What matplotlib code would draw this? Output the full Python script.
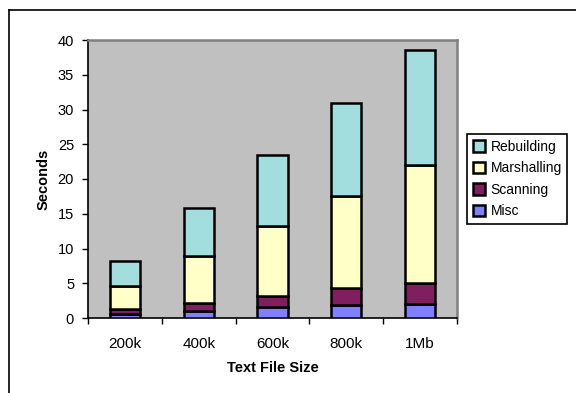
import matplotlib
matplotlib.use("Agg")
import matplotlib.pyplot as plt
from matplotlib.lines import Line2D
import numpy as np

plt.rcParams['font.family'] = ['Liberation Sans', 'DejaVu Sans']

sizes = ["200k", "400k", "600k", "800k", "1Mb"]
misc = [0.55, 1.05, 1.55, 1.85, 2.0]
scanning = [0.7, 1.15, 1.6, 2.4, 3.0]
marshalling = [3.35, 6.7, 10.05, 13.35, 17.0]
rebuilding = [3.65, 6.9, 10.25, 13.4, 16.5]

series = [
    ("Misc", misc, "#8080FF"),
    ("Scanning", scanning, "#801F60"),
    ("Marshalling", marshalling, "#FFFFC8"),
    ("Rebuilding", rebuilding, "#A3DEDF"),
]

fig = plt.figure(figsize=(5.76, 3.93), dpi=100)
fig.patch.set_facecolor("white")

# outer frame lines (top and left)
fig.add_artist(Line2D([9 / 576, 9 / 576], [0, 1 - 9.5 / 393],
                      transform=fig.transFigure, color="black", lw=1.2))
fig.add_artist(Line2D([9 / 576, 1], [1 - 9.5 / 393, 1 - 9.5 / 393],
                      transform=fig.transFigure, color="black", lw=1.2))

ax = fig.add_axes([88 / 576, 1 - 318 / 393, (457 - 88) / 576, (318 - 40) / 393])
ax.set_facecolor("#C0C0C0")

x = np.arange(len(sizes))
bottom = np.zeros(len(sizes))
handles = []
for name, vals, color in series:
    vals = np.array(vals)
    b = ax.bar(x, vals, width=0.41, bottom=bottom, color=color,
               edgecolor="black", linewidth=1.8, label=name, zorder=3)
    handles.append(b)
    bottom += vals

ax.set_xlim(-0.5, len(sizes) - 0.5)
ax.set_ylim(0, 40)
ax.set_yticks(np.arange(0, 41, 5))
ax.set_yticklabels([str(v) for v in range(0, 41, 5)], fontsize=10.5)

# category separators as ticks, labels at centers
ax.set_xticks(np.arange(-0.5, len(sizes), 1.0))
ax.set_xticklabels([])
ax.set_xticks(x, minor=True)
ax.set_xticklabels(sizes, minor=True, fontsize=11)
ax.tick_params(axis="x", which="major", direction="out", length=4, width=1, color="black")
ax.tick_params(axis="x", which="minor", length=0, pad=14)
ax.tick_params(axis="y", direction="out", length=4, width=1, pad=6)

for s in ["left", "bottom"]:
    ax.spines[s].set_color("black")
    ax.spines[s].set_linewidth(1.2)
for s in ["top", "right"]:
    ax.spines[s].set_color("#808080")
    ax.spines[s].set_linewidth(1.8)

ax.set_xlabel("Text File Size", fontsize=10.5, fontweight="bold", labelpad=7)
ax.set_ylabel("Seconds", fontsize=10.5, fontweight="bold", labelpad=5)

leg = fig.legend(handles[::-1], [s[0] for s in series][::-1],
                 loc="upper left", bbox_to_anchor=(467 / 576, 1 - 134 / 393),
                 bbox_transform=fig.transFigure, fontsize=10,
                 frameon=True, fancybox=False, framealpha=1,
                 edgecolor="black", handlelength=0.9, handleheight=0.9,
                 handletextpad=0.4, labelspacing=0.55, borderpad=0.4,
                 borderaxespad=0)
leg.get_frame().set_linewidth(1.2)

fig.savefig("out.png", dpi=100, facecolor="white")
